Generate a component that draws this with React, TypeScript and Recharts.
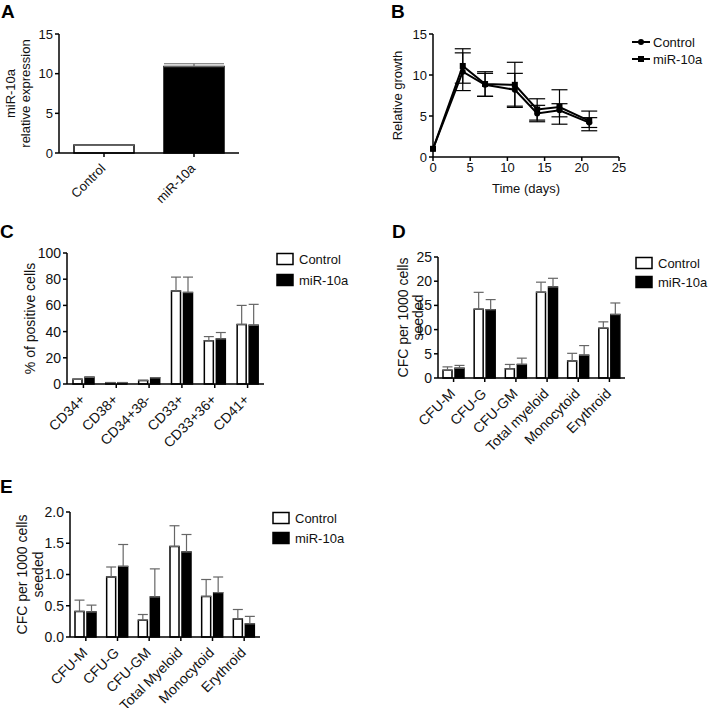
import React from 'react'
import { BarChart, Bar, Cell, LineChart, Line, XAxis, YAxis, ErrorBar } from 'recharts'

const FONT = '"Liberation Sans", Arial, Helvetica, sans-serif'
const SERIES = ['Control', 'miR-10a']

// A: miR-10a expression
const aGroups = ['Control', 'miR-10a']
const aValues = [1.0, 10.9]
const aErrors = [0, 0.35]

// B: growth curve
const bDays = [0, 4, 7, 11, 14, 17, 21]
const bControl = [1, 10.4, 8.8, 8.2, 5.3, 5.7, 4.2]
const bControlSd = [0, 2.3, 1.4, 2.0, 1.0, 0.8, 0.6]
const bMir = [1, 11.1, 8.9, 8.8, 5.8, 6.1, 4.4]
const bMirSd = [0, 2.1, 1.5, 2.75, 1.3, 2.1, 1.2]

// C: surface markers
const cMarkers = ['CD34+', 'CD38+', 'CD34+38-', 'CD33+', 'CD33+36+', 'CD41+']
const cControl = [3.6, 1.0, 2.7, 71.0, 33.0, 45.4]
const cControlSd = [0, 0, 0, 10.6, 3.2, 14.6]
const cMir = [5.1, 1.0, 4.8, 69.8, 34.4, 44.8]
const cMirSd = [0, 0, 0, 11.8, 4.9, 16.0]

// D: colonies
const dColonies = ['CFU-M', 'CFU-G', 'CFU-GM', 'Total myeloid', 'Monocytoid', 'Erythroid']
const dControl = [1.6, 14.2, 1.9, 17.7, 3.5, 10.3]
const dControlSd = [0.7, 3.5, 0.9, 2.1, 1.6, 1.3]
const dMir = [2.0, 14.1, 2.8, 18.8, 4.7, 13.1]
const dMirSd = [0.6, 2.1, 1.3, 1.8, 2.0, 2.4]

// E: colonies (secondary)
const eColonies = ['CFU-M', 'CFU-G', 'CFU-GM', 'Total Myeloid', 'Monocytoid', 'Erythroid']
const eControl = [0.41, 0.96, 0.27, 1.45, 0.65, 0.29]
const eControlSd = [0.18, 0.16, 0.09, 0.33, 0.27, 0.15]
const eMir = [0.40, 1.13, 0.64, 1.36, 0.71, 0.21]
const eMirSd = [0.11, 0.35, 0.45, 0.28, 0.25, 0.12]

const AXIS = { stroke: '#000', strokeWidth: 1.5 }

function SlantTick({ x, y, payload, fontSize = 13 }: any) {
    return (
        <g transform={`translate(${x - 1},${y + 7}) rotate(-45)`}>
            <text textAnchor="end" dominantBaseline="central" fontSize={fontSize} fontFamily={FONT} fill="#111">
                {payload.value}
            </text>
        </g>
    )
}

function vLabel(lines: string[], xs: number[], size: number) {
    return (p: any) => {
        const vb = p.viewBox
        const cy = vb.y + vb.height / 2
        return (
            <g>
                {lines.map((t, i) => (
                    <text key={i} x={xs[i]} y={cy} transform={`rotate(-90 ${xs[i]} ${cy})`}
                        textAnchor="middle" dominantBaseline="central" fontSize={size} fontFamily={FONT} fill="#111">
                        {t}
                    </text>
                ))}
            </g>
        )
    }
}

type Box = { left: number; top: number; width: number; height: number; plotTop: number; yw: number; right: number; xh: number }

function GroupedPanel({ box, categories, control, controlSd, mir, mirSd, domain, ticks, fmt, yLines, labelXs, fontSize }: any) {
    const data = categories.map((c: string, i: number) => ({
        name: c,
        control: control[i],
        mir: mir[i],
        controlErr: [0, controlSd[i]],
        mirErr: [0, mirSd[i]],
    }))
    const b: Box = box
    return (
        <div style={{ position: 'absolute', left: b.left, top: b.top }}>
            <BarChart width={b.width} height={b.height} data={data} barSize={9} barGap={3}
                margin={{ top: b.plotTop, right: b.right, left: 0, bottom: 0 }}>
                <XAxis dataKey="name" height={b.xh} interval={0} axisLine={AXIS} tickLine={AXIS} tickSize={4}
                    tick={<SlantTick fontSize={fontSize} />} />
                <YAxis width={b.yw} domain={domain} ticks={ticks} tickFormatter={fmt} axisLine={AXIS} tickLine={AXIS}
                    tickSize={4} interval={0}
                    tick={{ fill: '#111', fontSize, fontFamily: FONT }}
                    label={vLabel(yLines, labelXs, fontSize)} />
                <Bar dataKey="control" fill="#fff" stroke="#000" strokeWidth={1.5} isAnimationActive={false}>
                    <ErrorBar dataKey="controlErr" width={5} stroke="#666" strokeWidth={1.2} />
                </Bar>
                <Bar dataKey="mir" fill="#000" stroke="#000" strokeWidth={1.5} isAnimationActive={false}>
                    <ErrorBar dataKey="mirErr" width={5} stroke="#666" strokeWidth={1.2} />
                </Bar>
            </BarChart>
        </div>
    )
}

function BoxLegend({ x, ys }: { x: number; ys: number[] }) {
    return (
        <g fontFamily={FONT} fontSize={13} fill="#111">
            {SERIES.map((s, i) => (
                <g key={s}>
                    <rect x={x} y={ys[i] - 5.5} width={16} height={11} fill={i ? '#000' : '#fff'} stroke="#000" strokeWidth={1.5} />
                    <text x={x + 22} y={ys[i]} dominantBaseline="central">{s}</text>
                </g>
            ))}
        </g>
    )
}

function LineLegend({ x, ys }: { x: number; ys: number[] }) {
    return (
        <g fontFamily={FONT} fontSize={13} fill="#111">
            {SERIES.map((s, i) => (
                <g key={s}>
                    <line x1={x} x2={x + 18} y1={ys[i]} y2={ys[i]} stroke="#000" strokeWidth={2} />
                    {i === 0
                        ? <circle cx={x + 9} cy={ys[i]} r={3} fill="#000" />
                        : <rect x={x + 6} y={ys[i] - 3} width={6} height={6} fill="#000" />}
                    <text x={x + 21} y={ys[i]} dominantBaseline="central">{s}</text>
                </g>
            ))}
        </g>
    )
}

export default function App() {
    const aData = aGroups.map((g, i) => ({ name: g, value: aValues[i], err: [0, aErrors[i]] }))
    const bData = bDays.map((d, i) => ({
        day: d, control: bControl[i], mir: bMir[i], controlSd: bControlSd[i], mirSd: bMirSd[i],
    }))

    return (
        <div style={{ position: 'absolute', left: 0, top: 0, width: 708, height: 708, background: '#fff', fontFamily: FONT }}>
            <svg width={708} height={708} style={{ position: 'absolute', left: 0, top: 0 }}>
                <g fontFamily={FONT} fontWeight="bold" fontSize={19} fill="#000">
                    <text x={1} y={18}>A</text>
                    <text x={391} y={18}>B</text>
                    <text x={0} y={238}>C</text>
                    <text x={392} y={238}>D</text>
                    <text x={0} y={493}>E</text>
                </g>
                <LineLegend x={632} ys={[42, 59]} />
                <BoxLegend x={277} ys={[259, 280]} />
                <BoxLegend x={636} ys={[263, 282]} />
                <BoxLegend x={273} ys={[518, 538]} />
            </svg>

            {/* A */}
            <div style={{ position: 'absolute', left: 0, top: 0 }}>
                <BarChart width={260} height={215} data={aData} barCategoryGap={15}
                    margin={{ top: 34, right: 21, left: 0, bottom: 0 }}>
                    <XAxis dataKey="name" height={62} interval={0} axisLine={AXIS} tickLine={AXIS} tickSize={4}
                        tick={<SlantTick fontSize={13} />} />
                    <YAxis width={59} domain={[0, 15]} ticks={[0, 5, 10, 15]} axisLine={AXIS} tickLine={AXIS} tickSize={4}
                        tick={{ fill: '#111', fontSize: 13, fontFamily: FONT }}
                        label={vLabel(['miR-10a', 'relative expression'], [10, 25], 13)} />
                    <Bar dataKey="value" stroke="#000" strokeWidth={1.5} isAnimationActive={false}>
                        {aData.map((d, i) => <Cell key={d.name} fill={i ? '#000' : '#fff'} />)}
                        <ErrorBar dataKey="err" width={30} stroke="#666" strokeWidth={1.2} />
                    </Bar>
                </BarChart>
            </div>

            {/* B */}
            <div style={{ position: 'absolute', left: 380, top: 0 }}>
                <LineChart width={328} height={200} data={bData} margin={{ top: 34, right: 89, left: 0, bottom: 0 }}>
                    <XAxis type="number" dataKey="day" domain={[0, 25]} ticks={[0, 5, 10, 15, 20, 25]} height={43}
                        axisLine={AXIS} tickLine={AXIS} tickSize={4}
                        tick={{ fill: '#111', fontSize: 13, fontFamily: FONT }}
                        label={(p: any) => (
                            <text x={p.viewBox.x + p.viewBox.width / 2} y={p.viewBox.y + 31} textAnchor="middle"
                                dominantBaseline="central" fontSize={13} fontFamily={FONT} fill="#111">Time (days)</text>
                        )} />
                    <YAxis width={53} domain={[0, 15]} ticks={[0, 5, 10, 15]} axisLine={AXIS} tickLine={AXIS} tickSize={4}
                        tick={{ fill: '#111', fontSize: 13, fontFamily: FONT }}
                        label={vLabel(['Relative growth'], [17], 13)} />
                    <Line dataKey="control" stroke="#000" strokeWidth={2} isAnimationActive={false}
                        dot={(p: any) => <circle key={`c${p.index}`} cx={p.cx} cy={p.cy} r={3} fill="#000" />}>
                        <ErrorBar dataKey="controlSd" width={8} stroke="#000" strokeWidth={1.2} direction="y" />
                    </Line>
                    <Line dataKey="mir" stroke="#000" strokeWidth={2} isAnimationActive={false}
                        dot={(p: any) => <rect key={`m${p.index}`} x={p.cx - 3} y={p.cy - 3} width={6} height={6} fill="#000" />}>
                        <ErrorBar dataKey="mirSd" width={8} stroke="#000" strokeWidth={1.2} direction="y" />
                    </Line>
                </LineChart>
            </div>

            {/* C */}
            <GroupedPanel
                box={{ left: 0, top: 220, width: 275, height: 240, plotTop: 33, yw: 67, right: 11, xh: 76 }}
                categories={cMarkers} control={cControl} controlSd={cControlSd} mir={cMir} mirSd={cMirSd}
                domain={[0, 100]} ticks={[0, 20, 40, 60, 80, 100]} yLines={['% of positive cells']} labelXs={[30]}
                fontSize={14} />

            {/* D */}
            <GroupedPanel
                box={{ left: 360, top: 220, width: 275, height: 240, plotTop: 37, yw: 78, right: 10, xh: 82 }}
                categories={dColonies} control={dControl} controlSd={dControlSd} mir={dMir} mirSd={dMirSd}
                domain={[0, 25]} ticks={[0, 5, 10, 15, 20, 25]} yLines={['CFC per 1000 cells', 'seeded']} labelXs={[43, 58]}
                fontSize={14} />

            {/* E */}
            <GroupedPanel
                box={{ left: 0, top: 460, width: 270, height: 248, plotTop: 52, yw: 70, right: 10, xh: 71 }}
                categories={eColonies} control={eControl} controlSd={eControlSd} mir={eMir} mirSd={eMirSd}
                domain={[0, 2]} ticks={[0, 0.5, 1, 1.5, 2]} fmt={(v: number) => v.toFixed(1)}
                yLines={['CFC per 1000 cells', 'seeded']} labelXs={[22, 38]}
                fontSize={14} />
        </div>
    )
}
